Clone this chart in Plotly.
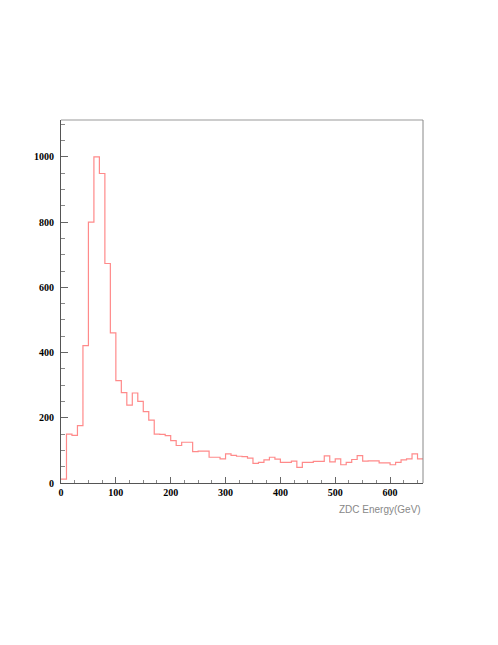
import plotly.graph_objects as go

# ZDC energy histogram, 10 GeV bins from 0 to 660
bin_width = 10
counts = [12, 150, 146, 176, 421, 800, 1000, 949, 673, 460,
          314, 277, 239, 276, 250, 219, 193, 150, 149, 145,
          130, 115, 125, 125, 96, 98, 98, 79, 79, 74,
          89, 85, 82, 81, 76, 60, 63, 71, 79, 73,
          63, 63, 67, 48, 63, 63, 66, 66, 83, 65,
          74, 56, 63, 72, 84, 67, 68, 68, 62, 62,
          56, 63, 71, 74, 89, 74]
x_ticks = [0, 100, 200, 300, 400, 500, 600]
y_ticks = [0, 200, 400, 600, 800, 1000]

edges = [i * bin_width for i in range(len(counts) + 1)]
x_step = edges
y_step = counts + [counts[-1]]

fig = go.Figure()
fig.add_trace(go.Scatter(
    x=x_step, y=y_step,
    mode='lines',
    line=dict(color='#ff8a8a', width=1.2, shape='hv'),
    showlegend=False,
    hoverinfo='skip'
))

tick_font = dict(family='Liberation Serif', size=10, color='black', weight='bold')

fig.update_xaxes(
    range=[0, len(counts) * bin_width],
    tickvals=x_ticks,
    ticks='inside', ticklen=6, tickcolor='#666', tickwidth=1,
    minor=dict(dtick=25, ticks='inside', ticklen=3, tickcolor='#888'),
    showline=True, linecolor='#555', linewidth=1,
    showgrid=False, zeroline=False,
    tickfont=tick_font,
)
fig.update_yaxes(
    range=[0, 1113],
    tickvals=y_ticks,
    ticks='inside', ticklen=7, tickcolor='#666', tickwidth=1,
    minor=dict(dtick=50, ticks='inside', ticklen=3.5, tickcolor='#888'),
    showline=True, linecolor='#555', linewidth=1,
    showgrid=False, zeroline=False,
    tickfont=tick_font,
    ticklabelstandoff=4,
)

# frame: top and right edges
fig.add_shape(type='line', xref='paper', yref='paper', x0=0, x1=1, y0=1, y1=1,
              line=dict(color='#bbbbbb', width=1.5))
fig.add_shape(type='line', xref='paper', yref='paper', x0=1, x1=1, y0=0, y1=1,
              line=dict(color='#888888', width=1))

fig.add_annotation(
    text='ZDC Energy(GeV)', xref='paper', yref='paper',
    x=1, y=-0.074, xanchor='right', yanchor='middle',
    showarrow=False,
    font=dict(family='Liberation Sans', size=10, color='#888'),
)

# page body adds an 8px offset, so the figure is a bit smaller than the window
fig.update_layout(
    width=490, height=637,
    margin=dict(l=53, r=75, t=112, b=162),
    plot_bgcolor='white', paper_bgcolor='white',
)

fig.write_html('out.html')
